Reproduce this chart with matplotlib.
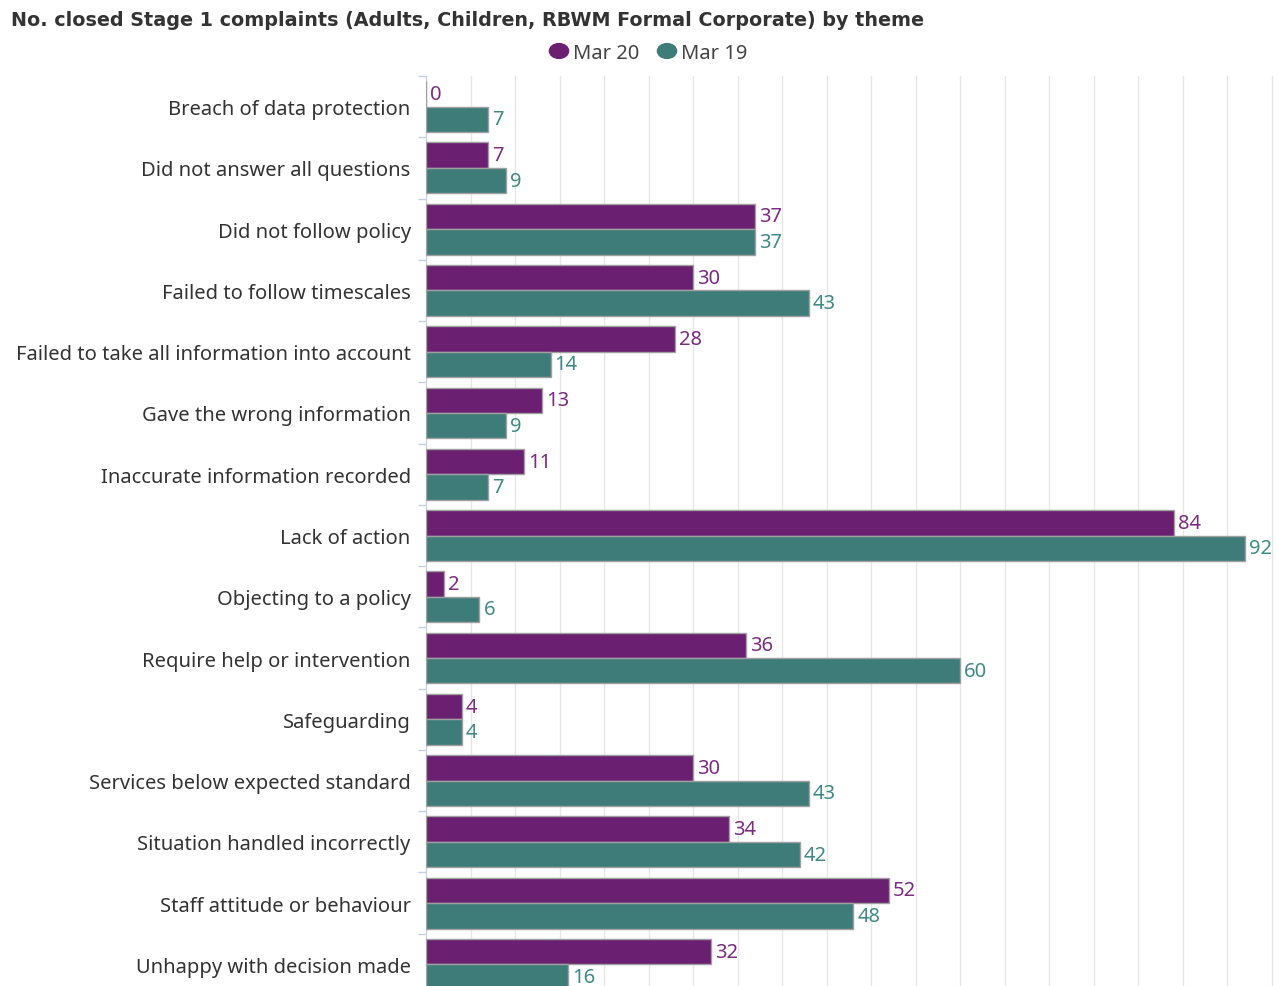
# Closed Stage 1 complaints by theme, Mar 20 vs Mar 19

import matplotlib.pyplot as plt
import numpy as np

themes = [
    'Breach of data protection',
    'Did not answer all questions',
    'Did not follow policy',
    'Failed to follow timescales',
    'Failed to take all information into account',
    'Gave the wrong information',
    'Inaccurate information recorded',
    'Lack of action',
    'Objecting to a policy',
    'Require help or intervention',
    'Safeguarding',
    'Services below expected standard',
    'Situation handled incorrectly',
    'Staff attitude or behaviour',
    'Unhappy with decision made',
]
mar20 = [0, 7, 37, 30, 28, 13, 11, 84, 2, 36, 4, 30, 34, 52, 32]
mar19 = [7, 9, 37, 43, 14, 9, 7, 92, 6, 60, 4, 43, 42, 48, 16]

purple = '#6a1f70'
teal = '#3e7c79'
purple_txt = '#7b2d82'
teal_txt = '#3f8a86'

fig = plt.figure(figsize=(12.79, 9.87), dpi=100)
ax = fig.add_axes([426 / 1279, 1 - 996 / 987, (1276 - 426) / 1279, (996 - 77) / 987])

y = np.arange(len(themes))
h = 0.415
ax.barh(y - h / 2, mar20, height=h, color=purple, edgecolor='#a0a0a0', linewidth=1, zorder=3)
ax.barh(y + h / 2, mar19, height=h, color=teal, edgecolor='#a0a0a0', linewidth=1, zorder=3)

for i, v in enumerate(mar20):
    ax.text(v + 0.45, y[i] - h / 2, str(v), color=purple_txt, fontsize=14.5,
            va='center', ha='left', family='Noto Sans', zorder=4)
for i, v in enumerate(mar19):
    ax.text(v + 0.45, y[i] + h / 2, str(v), color=teal_txt, fontsize=14.5,
            va='center', ha='left', family='Noto Sans', zorder=4)

ax.set_ylim(len(themes) - 0.5, -0.5)
ax.set_xlim(0, 95.5)
ax.set_xticks(np.arange(0, 96, 5))
ax.xaxis.grid(True, color='#e6e6e6', linewidth=1, zorder=0)
ax.tick_params(axis='x', length=0, labelbottom=False)

ax.set_yticks(y)
ax.set_yticklabels(themes, fontsize=14.5, color='#333333', family='Noto Sans')
ax.tick_params(axis='y', which='major', length=0, pad=11)
ax.set_yticks(np.arange(-0.5, len(themes), 1), minor=True)
ax.tick_params(axis='y', which='minor', length=6, color='#c5cfe0', width=1)

for s in ['top', 'right', 'bottom']:
    ax.spines[s].set_visible(False)
ax.spines['left'].set_color('#c5cfe0')

fig.text(11 / 1279, 1 - 21 / 987, 'No. closed Stage 1 complaints (Adults, Children, RBWM Formal Corporate) by theme',
         fontsize=13.75, fontweight='bold', color='#333333', va='center', ha='left', family='DejaVu Sans')

# legend
fig.patches.append(plt.Circle((559 / 1279, 1 - 52 / 987), 0.0075, transform=fig.transFigure,
                              color=purple, figure=fig))
fig.text(573 / 1279, 1 - 54 / 987, 'Mar 20', fontsize=14.5, color='#444444', va='center', family='Noto Sans')
fig.text(681 / 1279, 1 - 54 / 987, 'Mar 19', fontsize=14.5, color='#444444', va='center', family='Noto Sans')
fig.patches.append(plt.Circle((667 / 1279, 1 - 52 / 987), 0.0075, transform=fig.transFigure,
                              color=teal, figure=fig))

plt.savefig('out.png', dpi=100)
